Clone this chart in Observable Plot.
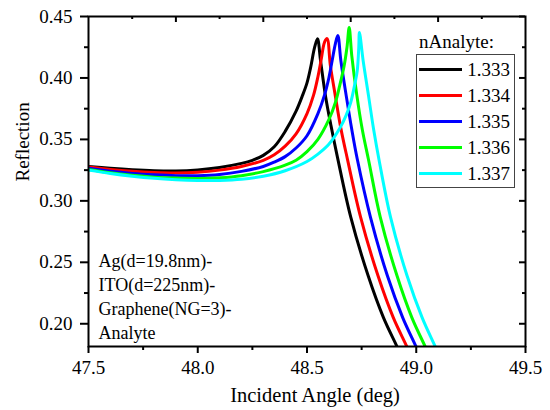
<!DOCTYPE html>
<html>
<head>
<meta charset="utf-8">
<script src="https://cdn.jsdelivr.net/npm/d3@7"></script>
<script src="https://cdn.jsdelivr.net/npm/@observablehq/plot@0.6"></script>
<style>
  body { margin: 0; background: #fff; }
  #wrap { position: relative; width: 550px; height: 410px; font-family: "Liberation Serif", "Times New Roman", serif; color: #000; }
  #wrap svg, #wrap svg text { font-family: "Liberation Serif", "Times New Roman", serif !important; }
  #legend-title { position: absolute; left: 419px; top: 32.4px; font-size: 19px; line-height: 19px; white-space: nowrap; }
  #legend { position: absolute; left: 415.7px; top: 54.3px; width: 97.3px; height: 130.4px; border: 1px solid #444; padding-top: 1.7px; box-sizing: content-box; }
  .row { display: flex; align-items: center; height: 26px; }
  .sw { width: 43px; height: 3px; margin-left: 2px; }
  .lab { margin-left: 5.5px; font-size: 19px; line-height: 19px; }
</style>
</head>
<body>
<div id="wrap"></div>
<script>
// ---- data ----
const seriesNames = ["1.333", "1.334", "1.335", "1.336", "1.337"];
const seriesColors = ["#000000", "#ff0000", "#0000ff", "#00ff00", "#00ffff"];

const angle_1333 = [47.5, 47.6, 47.7, 47.8, 47.9, 48.0, 48.1, 48.2, 48.25, 48.3, 48.35, 48.4, 48.45, 48.48, 48.5, 48.516, 48.535, 48.548, 48.562, 48.585, 48.61, 48.64, 48.70, 48.78, 48.85, 48.913, 48.94];
const refl_1333  = [0.328, 0.3265, 0.3253, 0.3245, 0.3243, 0.3252, 0.3272, 0.3305, 0.333, 0.337, 0.344, 0.3565, 0.373, 0.386, 0.396, 0.408, 0.425, 0.432, 0.414, 0.385, 0.361, 0.335, 0.287, 0.239, 0.205, 0.181, 0.170];

const angle_1334 = [47.5, 47.6, 47.7, 47.8, 47.9, 48.0, 48.1, 48.2, 48.3, 48.35, 48.4, 48.45, 48.5, 48.53, 48.55, 48.565, 48.58, 48.592, 48.607, 48.63, 48.655, 48.685, 48.745, 48.825, 48.895, 48.958, 48.985];
const refl_1334  = [0.3275, 0.3255, 0.324, 0.323, 0.3226, 0.3232, 0.325, 0.328, 0.333, 0.3375, 0.3445, 0.3545, 0.371, 0.386, 0.401, 0.415, 0.429, 0.432, 0.410, 0.385, 0.359, 0.334, 0.287, 0.239, 0.205, 0.181, 0.170];

const angle_1335 = [47.5, 47.6, 47.7, 47.8, 47.9, 48.0, 48.1, 48.2, 48.3, 48.35, 48.4, 48.45, 48.5, 48.55, 48.58, 48.6, 48.615, 48.63, 48.641, 48.655, 48.68, 48.705, 48.73, 48.79, 48.868, 48.938, 49.0, 49.027];
const refl_1335  = [0.3265, 0.324, 0.3223, 0.3212, 0.3205, 0.3205, 0.3215, 0.324, 0.328, 0.3315, 0.336, 0.343, 0.353, 0.371, 0.386, 0.400, 0.414, 0.428, 0.4345, 0.414, 0.385, 0.358, 0.334, 0.287, 0.239, 0.205, 0.181, 0.170];

const angle_1336 = [47.5, 47.6, 47.7, 47.8, 47.9, 48.0, 48.1, 48.2, 48.3, 48.4, 48.45, 48.5, 48.55, 48.6, 48.63, 48.65, 48.67, 48.683, 48.693, 48.705, 48.728, 48.753, 48.782, 48.835, 48.912, 48.98, 49.042, 49.07];
const refl_1336  = [0.3255, 0.3228, 0.3208, 0.3193, 0.3185, 0.3182, 0.3188, 0.3205, 0.3238, 0.329, 0.333, 0.340, 0.350, 0.366, 0.380, 0.394, 0.410, 0.425, 0.441, 0.418, 0.386, 0.358, 0.333, 0.287, 0.239, 0.205, 0.181, 0.170];

const angle_1337 = [47.5, 47.6, 47.7, 47.8, 47.9, 48.0, 48.1, 48.2, 48.3, 48.4, 48.5, 48.55, 48.6, 48.65, 48.68, 48.7, 48.72, 48.73, 48.737, 48.74, 48.757, 48.782, 48.805, 48.83, 48.882, 48.958, 49.027, 49.088, 49.115];
const refl_1337  = [0.325, 0.3222, 0.32, 0.3183, 0.3172, 0.3166, 0.3166, 0.3175, 0.32, 0.3245, 0.332, 0.338, 0.346, 0.359, 0.370, 0.380, 0.396, 0.406, 0.425, 0.437, 0.414, 0.385, 0.358, 0.333, 0.287, 0.239, 0.205, 0.181, 0.170];

const xMajorTicks = [47.5, 48.0, 48.5, 49.0, 49.5];
const xMinorTicks = [47.75, 48.25, 48.75, 49.25];
const yMajorTicks = [0.20, 0.25, 0.30, 0.35, 0.40, 0.45];
const yMinorTicks = [0.225, 0.275, 0.325, 0.375, 0.425];
const topMajorTicks = [47.9, 48.3, 48.7, 49.1];
const topMinorTicks = [47.7, 48.1, 48.5, 48.9, 49.3];

const xLabel = "Incident Angle (deg)";
const yLabel = "Reflection";
const legendTitle = "nAnalyte:";
const noteText = "Ag(d=19.8nm)-\nITO(d=225nm)-\nGraphene(NG=3)-\nAnalyte";

// ---- build table ----
const angles = [angle_1333, angle_1334, angle_1335, angle_1336, angle_1337];
const refls = [refl_1333, refl_1334, refl_1335, refl_1336, refl_1337];
const rows = [];
seriesNames.forEach((n, i) => angles[i].forEach((a, j) => rows.push({n, angle: a, refl: refls[i][j]})));

const W = 550, H = 410, mL = 88, mR = 25, mT = 16, mB = 64;
const plotW = W - mL - mR, plotH = H - mT - mB;
const serif = "Liberation Serif";

const chart = Plot.plot({
  width: W, height: H,
  marginLeft: mL, marginRight: mR, marginTop: mT, marginBottom: mB,
  style: {fontFamily: serif, fontSize: "19px", background: "white", color: "black", overflow: "visible"},
  x: {domain: [47.5, 49.5]},
  y: {domain: [0.1815, 0.45]},
  color: {domain: seriesNames, range: seriesColors},
  marks: [
    Plot.line(rows, {x: "angle", y: "refl", z: "n", stroke: "n", strokeWidth: 3, curve: "catmull-rom", clip: true}),
    Plot.frame({stroke: "black", strokeWidth: 2}),
    Plot.axisX(xMajorTicks, {tickSize: 7, tickPadding: 7, strokeWidth: 2, tickFormat: d3.format(".1f"), fontSize: 19, fontFamily: serif, label: null}),
    Plot.axisX(xMinorTicks, {tickSize: 4, strokeWidth: 2, tickFormat: () => "", label: null}),
    Plot.axisY(yMajorTicks, {tickSize: 8, tickPadding: 8, strokeWidth: 2, tickFormat: d3.format(".2f"), fontSize: 19, fontFamily: serif, label: null}),
    Plot.axisY(yMinorTicks, {tickSize: 4, strokeWidth: 2, tickFormat: () => "", label: null}),
    Plot.tickX(topMajorTicks, {x: d => d, insetBottom: plotH - 6, strokeWidth: 2}),
    Plot.tickX(topMinorTicks, {x: d => d, insetBottom: plotH - 3, strokeWidth: 2}),
    Plot.tickY(yMajorTicks, {y: d => d, insetLeft: plotW - 6, strokeWidth: 2}),
    Plot.tickY(yMinorTicks, {y: d => d, insetLeft: plotW - 3, strokeWidth: 2}),
    Plot.text([xLabel], {text: d => d, frameAnchor: "bottom", lineAnchor: "bottom", dx: 8, dy: 55, fontSize: 20.5, fontFamily: serif}),
    Plot.text([yLabel], {text: d => d, frameAnchor: "left", rotate: -90, dx: -66, fontSize: 19, fontFamily: serif}),
    Plot.text([noteText], {text: d => d, frameAnchor: "top-left", textAnchor: "start", lineAnchor: "top", dx: 10, dy: 234, fontSize: 18, fontFamily: serif, lineHeight: 1.33})
  ]
});

const wrap = document.getElementById("wrap");
wrap.appendChild(chart);

// legend
const lt = document.createElement("div");
lt.id = "legend-title";
lt.textContent = legendTitle;
wrap.appendChild(lt);
const lg = document.createElement("div");
lg.id = "legend";
seriesNames.forEach((n, i) => {
  const r = document.createElement("div");
  r.className = "row";
  const s = document.createElement("div");
  s.className = "sw";
  s.style.background = seriesColors[i];
  const l = document.createElement("span");
  l.className = "lab";
  l.textContent = n;
  r.appendChild(s); r.appendChild(l);
  lg.appendChild(r);
});
wrap.appendChild(lg);
</script>
</body>
</html>
